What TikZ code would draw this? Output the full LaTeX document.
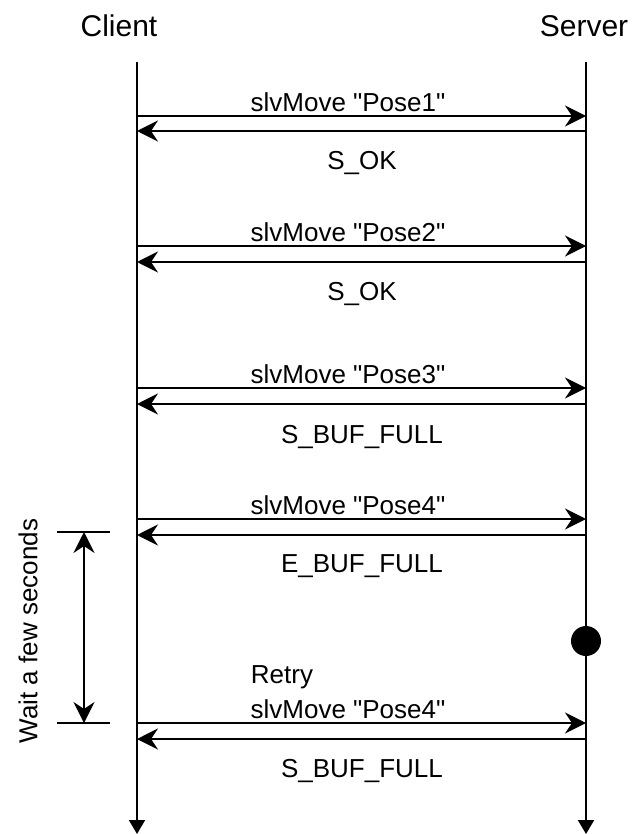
\documentclass[tikz,border=0pt]{standalone}
\usepackage{fontspec}
\setmainfont{Liberation Sans}[Ligatures=TeXOff]
\usetikzlibrary{arrows.meta}
\begin{document}
\begin{tikzpicture}[x=1pt,y=-1pt,
  life/.style={line width=2pt,-{Triangle[length=14pt,width=16pt]}},
  tipst/.tip={Stealth[length=21pt,width=21pt,inset=7pt]},
  msg/.style={line width=2pt,-tipst},
  lbl/.style={font=\fontsize{26}{30}\selectfont,inner sep=0pt},
  ttl/.style={font=\fontsize{30}{34}\selectfont,inner sep=0pt},
  tick/.style={line width=2pt}]
\useasboundingbox (0,0) rectangle (635,834);
% titles
\node[ttl] (client) at (119,26) {Client};
\node[ttl] (server) at (584,26) {Server};
% lifelines
\coordinate (ctop) at (137,62);
\coordinate (cbot) at (137,834);
\coordinate (stop) at (586,62);
\coordinate (sbot) at (586,834);
\draw[life] (ctop) -- (cbot);
\draw[life] (stop) -- (sbot);
% messages
\foreach \i/\a/\b in {1/116/131, 2/246/262, 3/388/404, 4/519/535, 5/723/739}{
  \coordinate (cr\i) at (137,\a);
  \coordinate (sr\i) at (586,\a);
  \coordinate (cl\i) at (137,\b);
  \coordinate (sl\i) at (586,\b);
  \draw[msg] (cr\i) -- (sr\i);
  \draw[msg] (sl\i) -- (cl\i);
}
\node[lbl] (m1) at (348,102) {slvMove "Pose1"};
\node[lbl] (r1) at (362,163) {S\_OK};
\node[lbl] (m2) at (348,232) {slvMove "Pose2"};
\node[lbl] (r2) at (362,294) {S\_OK};
\node[lbl] (m3) at (348,374) {slvMove "Pose3"};
\node[lbl] (r3) at (362,437) {S\_BUF\_FULL};
\node[lbl] (m4) at (348,505) {slvMove "Pose4"};
\node[lbl] (r4) at (362,566) {E\_BUF\_FULL};
\node[lbl] (retry) at (282,677) {Retry};
\node[lbl] (m5) at (348,709) {slvMove "Pose4"};
\node[lbl] (r5) at (362,771) {S\_BUF\_FULL};
% dot
\node[circle,fill=black,inner sep=0pt,minimum size=30pt] (dot) at (586,641) {};
% wait bracket
\coordinate (t1) at (57,532);
\coordinate (t2) at (110,532);
\coordinate (b1) at (57,723);
\coordinate (b2) at (110,723);
\draw[tick] (t1) -- (t2);
\draw[tick] (b1) -- (b2);
\coordinate (wt) at (84,532);
\coordinate (wb) at (84,723);
\draw[line width=2pt,tipst-tipst] (wt) -- (wb);
\node[lbl,rotate=90] (wait) at (28,631) {Wait a few seconds};
\end{tikzpicture}
\end{document}
